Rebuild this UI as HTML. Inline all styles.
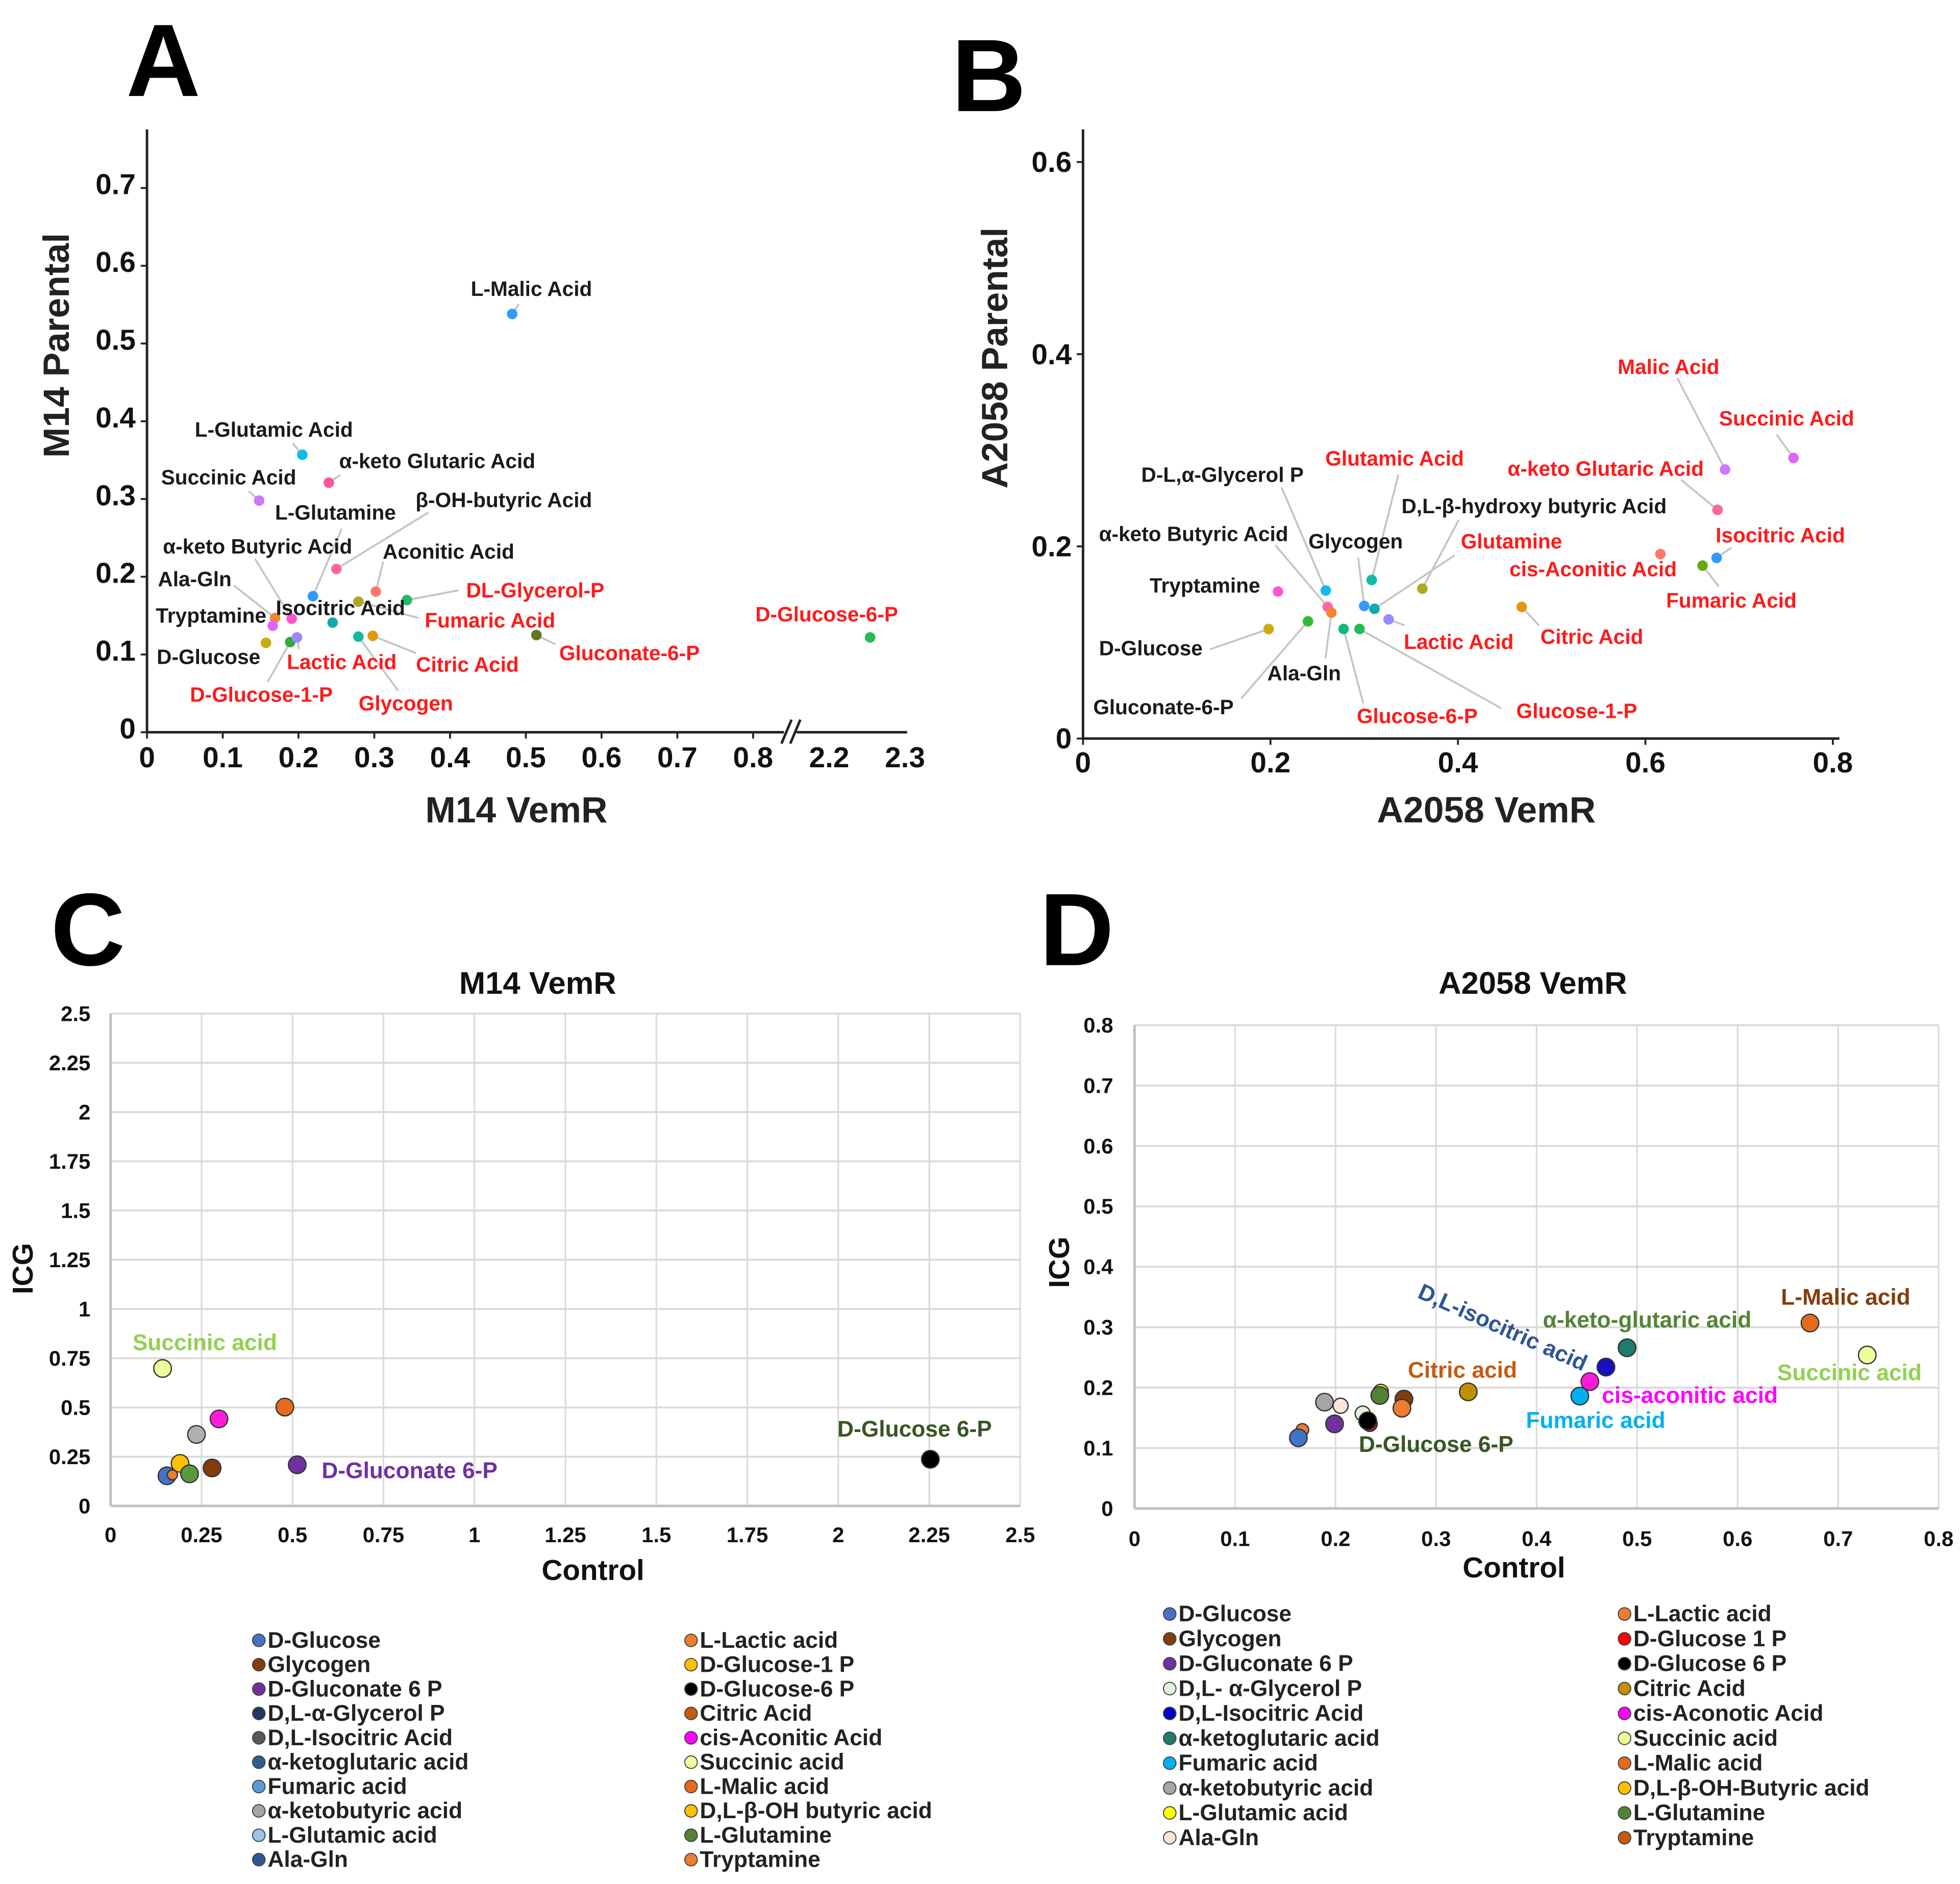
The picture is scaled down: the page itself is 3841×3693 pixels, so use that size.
<!DOCTYPE html>
<html><head><meta charset="utf-8"><style>
html,body{margin:0;padding:0;background:#fff;}
svg{display:block;font-family:"Liberation Sans",Arial,sans-serif;font-weight:bold;}
</style></head><body>
<svg id="fig" width="3841" height="3693" viewBox="0 0 1560 1500" preserveAspectRatio="none" xmlns="http://www.w3.org/2000/svg"></svg>
<script>
// ---------- Panel A data ----------
const aX=[0.482,0.205,0.240,0.148,0.250,0.302,0.219,0.279,0.343,0.169,0.191,0.166,0.245,0.157,0.189,0.198,0.279,0.298,0.514,2.254];
const aY=[0.538,0.357,0.321,0.298,0.210,0.181,0.175,0.168,0.170,0.147,0.146,0.137,0.141,0.115,0.116,0.122,0.123,0.124,0.125,0.122];
const aCol=["#3399ff","#11bbee","#ff5599","#cc77ff","#ff6699","#ff7766","#3399ff","#aaaa22","#22bb66","#ee8833","#ff55cc","#dd66ff","#11aaaa","#ccaa11","#33aa33","#9988ff","#11bb99","#dd9911","#667722","#22bb55"];
const aLbl=["L-Malic  Acid","L-Glutamic  Acid","α-keto Glutaric Acid","Succinic  Acid","L-Glutamine","β-OH-butyric Acid","α-keto Butyric Acid","Aconitic  Acid","Ala-Gln","DL-Glycerol-P","Tryptamine","Isocitric  Acid","Fumaric  Acid","D-Glucose-6-P","D-Glucose","Lactic Acid","Citric Acid","Gluconate-6-P","D-Glucose-1-P","Glycogen"];
const aLx=[423,218,348,182,267,401,205,357,155,426,168,271,390,658,166,272,372,501,208,323];
const aLy=[230,342,367,380,408,398,435,439,461,470,490,484,494,489,523,527,529,520,553,560];
const aRed=[0,0,0,0,0,0,0,0,0,1,0,0,1,1,0,1,1,1,1,1];
// leader lines: label anchor (x,y) -> point index
const aLeadX=[413,233,271,198,272,341,305,203,186,365,333,213,238,317,331,442];
const aLeadY=[242,353,378,391,421,408,447,445,466,470,492,543,517,550,520,513];
const aLeadP=[0,1,2,3,6,4,5,10,9,8,7,14,15,16,17,18];
const aYTicks=["0","0.1","0.2","0.3","0.4","0.5","0.6","0.7"];
const aXTicks=["0","0.1","0.2","0.3","0.4","0.5","0.6","0.7","0.8"];
// ---------- Panel B data ----------
const bX=[0.685,0.758,0.677,0.616,0.676,0.661,0.468,0.362,0.308,0.259,0.208,0.261,0.265,0.300,0.311,0.326,0.240,0.198,0.278,0.295];
const bY=[0.280,0.292,0.238,0.192,0.188,0.180,0.137,0.156,0.165,0.154,0.153,0.137,0.131,0.138,0.135,0.124,0.122,0.114,0.114,0.114];
const bCol=["#cc77ff","#dd66ff","#ff6699","#ff7766","#3399ff","#66aa11","#dd9911","#aaaa22","#11bbaa","#11bbee","#ff55cc","#ff66aa","#ee8833","#3399ff","#11aaaa","#9988ff","#33bb33","#ccaa11","#11bb77","#22bb55"];
const bLbl=["Malic  Acid","Succinic  Acid","Glutamic  Acid","D-L,α-Glycerol P","α-keto Glutaric Acid","D,L-β-hydroxy butyric Acid","α-keto Butyric Acid","Glycogen","Glutamine","Isocitric  Acid","cis-Aconitic  Acid","Tryptamine","Fumaric  Acid","Citric Acid","Lactic Acid","D-Glucose","Ala-Gln","Gluconate-6-P","Glucose-6-P","Glucose-1-P"];
const bLx=[1328,1422,1110,973,1278,1221,950,1079,1203,1417,1268,959,1378,1267,1161,916,1038,926,1128,1255];
const bLy=[292,333,365,378,373,403,425,431,431,426,453,466,478,507,511,516,536,563,570,566];
const bRed=[1,1,1,0,1,0,0,0,1,1,1,0,1,1,1,0,0,0,1,1];
const bLeadX=[1335,1414,1338,1378,1368,1225,1113,1161,1158,1081,1020,1015,1118,963,1055,988,1085,1195];
const bLeadY=[301,346,382,436,467,498,378,414,442,444,388,434,498,517,524,556,560,564];
const bLeadP=[0,1,2,4,5,6,8,7,14,13,9,11,15,17,12,16,18,19];
const bYTicks=["0","0.2","0.4","0.6"];
const bXTicks=["0","0.2","0.4","0.6","0.8"];
// ---------- Panel C data ----------
const cX=[0.143,0.479,0.298,0.236,0.191,0.279,0.513,0.155,0.217,0.170,2.253];
const cY=[0.698,0.502,0.442,0.363,0.216,0.193,0.209,0.153,0.163,0.158,0.237];
const cCol=["#eeff99","#e36c1b","#ff1adc","#b0b0b0","#ffc000","#843c0c","#7030a0","#4472c4","#5a9a3c","#ed7d31","#000000"];
const cR=[7,7,7,7,7,7,7,7,7,4,7];
const cTicks=["0","0.25","0.5","0.75","1","1.25","1.5","1.75","2","2.25","2.5"];
// ---------- Panel D data ----------
const dX=[0.672,0.729,0.490,0.469,0.453,0.443,0.332,0.245,0.244,0.268,0.266,0.189,0.205,0.227,0.234,0.232,0.199,0.167,0.163];
const dY=[0.307,0.254,0.266,0.234,0.210,0.186,0.193,0.193,0.187,0.181,0.166,0.176,0.170,0.157,0.140,0.145,0.140,0.130,0.117];
const dCol=["#e36c1b","#eeff99","#1e7b6e","#1a0fbf","#ff1adc","#00b0f0","#bf9000","#ffff00","#548235","#843c0c","#ed7d31","#a5a5a5","#fbe5d6","#e2f0d9","#ff0000","#000000","#7030a0","#ed7d31","#4472c4"];
const dR=[7,7,7,7,7,7,7,6,7,7,7,7,6,6,6,7,7,5,7];
const dTicks=["0","0.1","0.2","0.3","0.4","0.5","0.6","0.7","0.8"];
// ---------- Legends ----------
const legCL=["D-Glucose","Glycogen","D-Gluconate 6 P","D,L-α-Glycerol P","D,L-Isocitric Acid","α-ketoglutaric acid","Fumaric acid","α-ketobutyric acid","L-Glutamic acid","Ala-Gln"];
const legCLc=["#4472c4","#843c0c","#7030a0","#1f3864","#595959","#2e5d8e","#5b9bd5","#a5a5a5","#9dc3e6","#2f5597"];
const legCR=["L-Lactic acid","D-Glucose-1 P","D-Glucose-6 P","Citric Acid","cis-Aconitic Acid","Succinic acid","L-Malic acid","D,L-β-OH butyric acid","L-Glutamine","Tryptamine"];
const legCRc=["#ed7d31","#ffc000","#000000","#c55a11","#ff00ff","#eeff99","#e36c1b","#ffc000","#548235","#ed7d31"];
const legDL=["D-Glucose","Glycogen","D-Gluconate 6 P","D,L- α-Glycerol P","D,L-Isocitric Acid","α-ketoglutaric acid","Fumaric acid","α-ketobutyric acid","L-Glutamic acid","Ala-Gln"];
const legDLc=["#4472c4","#843c0c","#7030a0","#e2f0d9","#0000cc","#1e7b6e","#00b0f0","#a5a5a5","#ffff00","#fbe5d6"];
const legDR=["L-Lactic acid","D-Glucose 1 P","D-Glucose 6 P","Citric Acid","cis-Aconotic Acid","Succinic acid","L-Malic acid","D,L-β-OH-Butyric acid","L-Glutamine","Tryptamine"];
const legDRc=["#ed7d31","#ff0000","#000000","#bf9000","#ff00ff","#eeff99","#e36c1b","#ffc000","#548235","#c55a11"];

const svg=document.getElementById('fig');
const NS="http://www.w3.org/2000/svg";
function el(tag,attrs,parent){const e=document.createElementNS(NS,tag);for(const k in attrs)e.setAttribute(k,attrs[k]);(parent||svg).appendChild(e);return e;}
function txt(x,y,s,size,fill,anchor,parent){const t=el('text',{x:x,y:y,'font-size':size,fill:fill||'#111','text-anchor':anchor||'middle','dominant-baseline':'central'},parent);t.textContent=s;return t;}

// ===== Panel A =====
const gA=el('g',{});


const ax=v=> v<1 ? 117+v*603 : 660+(v-2.2)*603;
const ay=v=> 583-v*619;
let t=txt(130,48,"A",82,'#000','middle',gA);
el('line',{x1:117,y1:103,x2:117,y2:583,stroke:'#222','stroke-width':2},gA);
el('line',{x1:117,y1:583,x2:624,y2:583,stroke:'#222','stroke-width':2},gA);
el('line',{x1:634,y1:583,x2:722,y2:583,stroke:'#222','stroke-width':2},gA);
el('line',{x1:622,y1:592,x2:630,y2:573,stroke:'#222','stroke-width':2},gA);
el('line',{x1:629,y1:592,x2:637,y2:573,stroke:'#222','stroke-width':2},gA);
aYTicks.forEach((s,i)=>{const v=i*0.1;el('line',{x1:112,y1:ay(v),x2:117,y2:ay(v),stroke:'#222','stroke-width':1.5},gA);const e=txt(108,ay(v)-3,s,23,'#111','end',gA);});
aXTicks.forEach((s,i)=>{const v=i*0.1;el('line',{x1:ax(v),y1:583,x2:ax(v),y2:588,stroke:'#222','stroke-width':1.5},gA);const e=txt(ax(v),603,s,23,'#111','middle',gA);});
["2.2","2.3"].forEach(s=>{const v=parseFloat(s);const e=txt(ax(v),603,s,23,'#111','middle',gA);});
t=txt(411,645,"M14 VemR",29,'#222','middle',gA);
t=txt(0,0,"M14 Parental",29,'#222','middle',gA);t.setAttribute('transform','translate(45,275) rotate(-90)');
aLeadP.forEach((p,i)=>{const l=el('line',{x1:aLeadX[i],y1:aLeadY[i],x2:ax(aX[p]),y2:ay(aY[p]),stroke:'#c4c4c4','stroke-width':1.5},gA);});
aX.forEach((v,i)=>{const c=el('circle',{cx:ax(v),cy:ay(aY[i]),r:4.2,fill:aCol[i]},gA);});
aLbl.forEach((s,i)=>{const e=txt(aLx[i],aLy[i],s,16.5,aRed[i]?'#ff1a1a':'#1a1a1a','middle',gA);});

// ===== Panel B =====
const gB=el('g',{});


const bx=v=>862+v*746;
const by=v=>588-v*765;
t=txt(787,60,"B",82,'#000','middle',gB);
el('line',{x1:862,y1:103,x2:862,y2:588,stroke:'#222','stroke-width':2},gB);
el('line',{x1:862,y1:588,x2:1464,y2:588,stroke:'#222','stroke-width':2},gB);
bYTicks.forEach((s,i)=>{const v=i*0.2;el('line',{x1:857,y1:by(v),x2:862,y2:by(v),stroke:'#222','stroke-width':1.5},gB);const e=txt(853,by(v),s,23,'#111','end',gB);});
bXTicks.forEach((s,i)=>{const v=i*0.2;el('line',{x1:bx(v),y1:588,x2:bx(v),y2:593,stroke:'#222','stroke-width':1.5},gB);const e=txt(bx(v),607,s,23,'#111','middle',gB);});
t=txt(1183,645,"A2058  VemR",29,'#222','middle',gB);
t=txt(0,0,"A2058  Parental",29,'#222','middle',gB);t.setAttribute('transform','translate(792,285) rotate(-90)');
bLeadP.forEach((p,i)=>{const l=el('line',{x1:bLeadX[i],y1:bLeadY[i],x2:bx(bX[p]),y2:by(bY[p]),stroke:'#c4c4c4','stroke-width':1.5},gB);});
bX.forEach((v,i)=>{const c=el('circle',{cx:bx(v),cy:by(bY[i]),r:4.2,fill:bCol[i]},gB);});
bLbl.forEach((s,i)=>{const e=txt(bLx[i],bLy[i],s,16.5,bRed[i]?'#ff1a1a':'#1a1a1a','middle',gB);});

// ===== Panel C =====
const gC=el('g',{});


const cx=v=>88+v*289.6;
const cy=v=>1199-v*156.8;
t=txt(70,740,"C",82,'#000','middle',gC);
t=txt(428,783,"M14 VemR",25,'#111','middle',gC);
cTicks.forEach((s,i)=>{const v=i*0.25;
 el('line',{x1:cx(v),y1:cy(0),x2:cx(v),y2:cy(2.5),stroke:'#d9d9d9','stroke-width':1.2},gC);
 el('line',{x1:cx(0),y1:cy(v),x2:cx(2.5),y2:cy(v),stroke:'#d9d9d9','stroke-width':1.5},gC);
 let e=txt(cx(v),1222,s,17,'#111','middle',gC);
 e=txt(72,cy(v),s,17,'#111','end',gC);});
el('line',{x1:cx(0),y1:cy(0),x2:cx(2.5),y2:cy(0),stroke:'#bfbfbf','stroke-width':2},gC);
el('line',{x1:cx(0),y1:cy(0),x2:cx(0),y2:cy(2.5),stroke:'#bfbfbf','stroke-width':2},gC);
t=txt(472,1250,"Control",23,'#111','middle',gC);
t=txt(0,0,"ICG",23,'#111','middle',gC);t.setAttribute('transform','translate(18,1010) rotate(-90)');
cX.forEach((v,i)=>{const c=el('circle',{cx:cx(v),cy:cy(cY[i]),r:cR[i],fill:cCol[i],stroke:'#333','stroke-width':1},gC);});
t=txt(163,1069,"Succinic acid",18,'#92d050','middle',gC);
t=txt(326,1171,"D-Gluconate 6-P",18,'#7030a0','middle',gC);
t=txt(728,1138,"D-Glucose 6-P",18,'#375623','middle',gC);

// ===== Panel D =====
const gD=el('g',{});


const dx=v=>903+v*800;
const dy=v=>1201-v*481;
t=txt(857,740,"D",82,'#000','middle',gD);
t=txt(1220,783,"A2058 VemR",25,'#111','middle',gD);
dTicks.forEach((s,i)=>{const v=i*0.1;
 el('line',{x1:dx(v),y1:dy(0),x2:dx(v),y2:dy(0.8),stroke:'#d9d9d9','stroke-width':1.2},gD);
 el('line',{x1:dx(0),y1:dy(v),x2:dx(0.8),y2:dy(v),stroke:'#d9d9d9','stroke-width':1.5},gD);
 let e=txt(dx(v),1225,s,17,'#111','middle',gD);
 e=txt(886,dy(v),s,17,'#111','end',gD);});
el('line',{x1:dx(0),y1:dy(0),x2:dx(0.8),y2:dy(0),stroke:'#bfbfbf','stroke-width':2},gD);
el('line',{x1:dx(0),y1:dy(0),x2:dx(0),y2:dy(0.8),stroke:'#bfbfbf','stroke-width':2},gD);
t=txt(1205,1248,"Control",23,'#111','middle',gD);
t=txt(0,0,"ICG",23,'#111','middle',gD);t.setAttribute('transform','translate(843,1005) rotate(-90)');
dX.forEach((v,i)=>{const c=el('circle',{cx:dx(v),cy:dy(dY[i]),r:dR[i],fill:dCol[i],stroke:'#333','stroke-width':1},gD);});
t=txt(1469,1033,"L-Malic acid",18,'#843c0c','middle',gD);
t=txt(1311,1051,"α-keto-glutaric acid",18,'#548235','middle',gD);
t=txt(0,0,"D,L-isocitric acid",18,'#2f5597','middle',gD);t.setAttribute('transform','translate(1196,1057) rotate(24)');
t=txt(1164,1091,"Citric acid",18,'#c55a11','middle',gD);
t=txt(1472,1093,"Succinic acid",18,'#92d050','middle',gD);
t=txt(1345,1111,"cis-aconitic acid",18,'#ff00ff','middle',gD);
t=txt(1270,1131,"Fumaric acid",18,'#00b0f0','middle',gD);
t=txt(1143,1150,"D-Glucose 6-P",18,'#375623','middle',gD);

// ===== Legends =====
function legend(names,cols,mx,y0,step,nm){
 const g=el('g',{});
 
 
 names.forEach((s,i)=>{const y=y0+i*step;
  const c=el('circle',{cx:mx,cy:y,r:5,fill:cols[i],stroke:'#444','stroke-width':0.8},g);
  
  
  const e=txt(mx+7,y,s,18,'#222','start',g);
  
  });
}
legend(legCL,legCLc,206,1306,19.4,'c-legend-left');
legend(legCR,legCRc,550,1306,19.4,'c-legend-right');
legend(legDL,legDLc,931,1285,19.8,'d-legend-left');
legend(legDR,legDRc,1293,1285,19.8,'d-legend-right');
</script>
</body></html>
